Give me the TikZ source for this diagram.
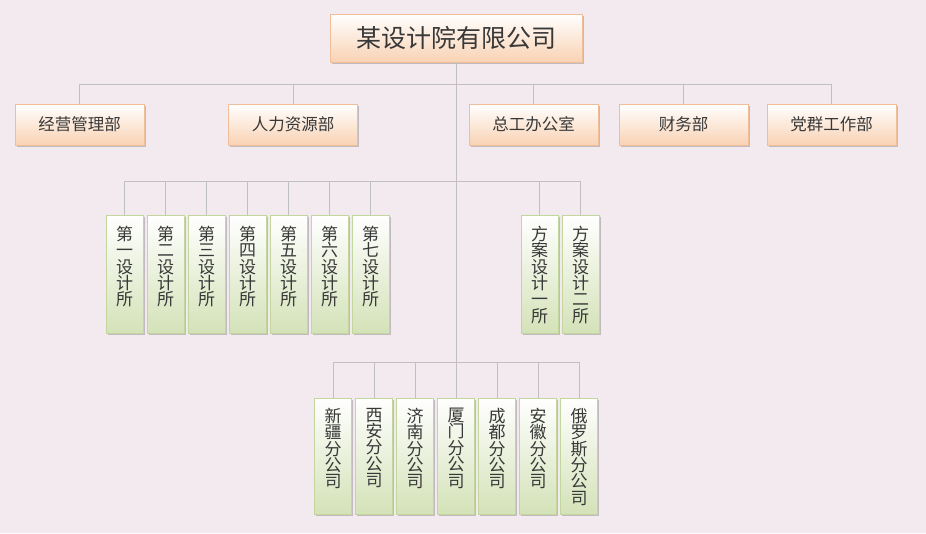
\documentclass[tikz,border=0pt]{standalone}
\usepackage{fontspec}
\setmainfont{Noto Sans CJK SC}
\usetikzlibrary{shadows}
\definecolor{bg}{HTML}{F3EAF0}
\definecolor{pborder}{HTML}{F0BE98}
\definecolor{pbottom}{HTML}{F9D2B3}
\definecolor{pmid}{HTML}{FCEBDD}
\definecolor{gborder}{HTML}{C3D69E}
\definecolor{gbottom}{HTML}{D4E2B8}
\definecolor{gmid}{HTML}{F2F6E8}
\definecolor{conncol}{HTML}{C0C0C0}
\definecolor{txt}{HTML}{383838}
\newcommand{\vstack}[1]{\parbox[c][114pt][t]{30pt}{\centering\fontsize{17pt}{16.4pt}\selectfont\vspace*{9pt}#1\par\vfill}}
\tikzset{
  shadowed/.style={drop shadow={shadow xshift=1.5pt, shadow yshift=-1.8pt, opacity=0.35, fill=black!60}},
  hbox/.style={draw=pborder, line width=0.8pt, top color=white, middle color=pmid, bottom color=pbottom, shadowed, text=txt, inner sep=0pt},
  topbox/.style={hbox, minimum width=252pt, minimum height=48pt, font=\fontsize{25pt}{28pt}\selectfont},
  deptbox/.style={hbox, minimum width=129pt, minimum height=41pt, font=\fontsize{16.5pt}{19pt}\selectfont},
  vbox/.style={draw=gborder, line width=0.8pt, top color=white, middle color=gmid, bottom color=gbottom, shadowed, text=txt, inner sep=0pt, minimum width=37pt},
  unitbox/.style={vbox, minimum height=118pt},
  branchbox/.style={vbox, minimum height=116pt},
  conn/.style={draw=conncol, line width=0.8pt}
}
\begin{document}
\begin{tikzpicture}[x=1pt,y=-1pt]
\fill[bg] (0,0) rectangle (926,533);
\useasboundingbox (0,0) rectangle (926,533);

\node[topbox] (top) at (456,38) {某设计院有限公司};

\node[deptbox] (d1) at (79.5,124.5) {经营管理部};
\node[deptbox] (d2) at (293,124.5) {人力资源部};
\node[deptbox] (d3) at (533.5,124.5) {总工办公室};
\node[deptbox] (d4) at (683.5,124.5) {财务部};
\node[deptbox] (d5) at (831.5,124.5) {党群工作部};

\node[unitbox] (u1) at (124.5,274) {\vstack{第\\一\\设\\计\\所}};
\node[unitbox] (u2) at (165.5,274) {\vstack{第\\二\\设\\计\\所}};
\node[unitbox] (u3) at (206.5,274) {\vstack{第\\三\\设\\计\\所}};
\node[unitbox] (u4) at (247.5,274) {\vstack{第\\四\\设\\计\\所}};
\node[unitbox] (u5) at (288.5,274) {\vstack{第\\五\\设\\计\\所}};
\node[unitbox] (u6) at (329.5,274) {\vstack{第\\六\\设\\计\\所}};
\node[unitbox] (u7) at (370.5,274) {\vstack{第\\七\\设\\计\\所}};
\node[unitbox] (f1) at (539.5,274) {\vstack{方\\案\\设\\计\\一\\所}};
\node[unitbox] (f2) at (580.5,274) {\vstack{方\\案\\设\\计\\二\\所}};

\node[branchbox] (b1) at (333,456) {\vstack{新\\疆\\分\\公\\司}};
\node[branchbox] (b2) at (374,456) {\vstack{西\\安\\分\\公\\司}};
\node[branchbox] (b3) at (415,456) {\vstack{济\\南\\分\\公\\司}};
\node[branchbox] (b4) at (456,456) {\vstack{厦\\门\\分\\公\\司}};
\node[branchbox] (b5) at (497,456) {\vstack{成\\都\\分\\公\\司}};
\node[branchbox] (b6) at (538,456) {\vstack{安\\徽\\分\\公\\司}};
\node[branchbox] (b7) at (579,456) {\vstack{俄\\罗\\斯\\分\\公\\司}};

\path (top.south) ++(0,22) coordinate (j1);
\path (top.south) ++(0,119) coordinate (j2);
\path (top.south) ++(0,300) coordinate (j3);

\draw[conn] (top.south) -- (b4.north);
\foreach \n in {d1,d2,d3,d4,d5} \draw[conn] (j1) -| (\n.north);
\foreach \n in {u1,u2,u3,u4,u5,u6,u7,f1,f2} \draw[conn] (j2) -| (\n.north);
\foreach \n in {b1,b2,b3,b5,b6,b7} \draw[conn] (j3) -| (\n.north);
\end{tikzpicture}
\end{document}
